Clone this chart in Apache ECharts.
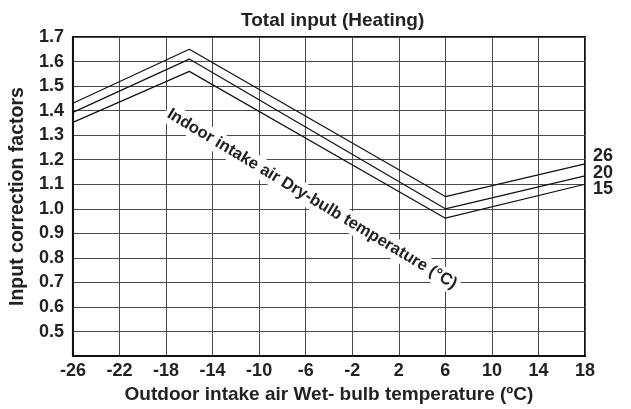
<!DOCTYPE html>
<html>
<head>
<meta charset="utf-8">
<script src="https://cdn.jsdelivr.net/npm/echarts@6/dist/echarts.min.js"></script>
<style>html,body{margin:0;padding:0;background:#fff}#c{width:631px;height:409px}</style>
</head>
<body>
<div id="c"></div>
<script>
// Outdoor wet-bulb temperature breakpoints (°C)
const xPoints = [-26, -16, 6, 18];
// Indoor dry-bulb temperature curves
const seriesNames = ['26', '20', '15'];
const curve26 = [1.43, 1.65, 1.05, 1.183];
const curve20 = [1.393, 1.61, 1.00, 1.134];
const curve15 = [1.352, 1.56, 0.962, 1.10];
const xTicks = [-26, 18, 4];      // min, max, interval
const yTicks = [0.4, 1.7, 0.1];   // min, max, interval

const FONT = "'Liberation Sans', Arial, sans-serif";
const curves = [curve26, curve20, curve15];
const labelOffsets = [[0, -8], [0, -3], [0, 5]];

const chart = echarts.init(document.getElementById('c'), null, {renderer: 'canvas'});
chart.setOption({
  animation: false,
  backgroundColor: '#fff',
  title: {
    text: 'Total input (Heating)',
    left: 236, top: 6,
    textStyle: {fontFamily: FONT, fontSize: 19, fontWeight: 'bold', color: '#222'}
  },
  grid: {
    left: 72, right: 46, top: 37, bottom: 50.5,
    show: true, borderColor: '#111', borderWidth: 2, backgroundColor: 'transparent'
  },
  xAxis: {
    type: 'value', min: xTicks[0], max: xTicks[1], interval: xTicks[2],
    name: 'Outdoor intake air Wet- bulb temperature (ºC)',
    nameLocation: 'middle', nameGap: 26,
    nameTextStyle: {fontFamily: FONT, fontSize: 19, fontWeight: 'bold', color: '#222'},
    axisLine: {onZero: false, lineStyle: {color: '#111', width: 2}},
    axisTick: {show: false},
    axisLabel: {margin: 6, fontFamily: FONT, fontSize: 18, fontWeight: 'bold', color: '#222'},
    splitLine: {show: true, lineStyle: {color: '#4a4a4a', width: 1}}
  },
  yAxis: {
    type: 'value', min: yTicks[0], max: yTicks[1], interval: yTicks[2],
    name: 'Input correction factors',
    nameLocation: 'middle', nameGap: 36,
    nameTextStyle: {fontFamily: FONT, fontSize: 19.5, fontWeight: 'bold', color: '#222'},
    axisLine: {show: true, onZero: false, lineStyle: {color: '#111', width: 2}},
    axisTick: {show: false},
    axisLabel: {
      margin: 9, fontFamily: FONT, fontSize: 18, fontWeight: 'bold', color: '#222',
      formatter: v => (Math.abs(v - yTicks[0]) < 1e-6 ? '' : v.toFixed(1))
    },
    splitLine: {show: true, lineStyle: {color: '#4a4a4a', width: 1}}
  },
  series: seriesNames.map((name, i) => ({
    name: name,
    type: 'line',
    showSymbol: false,
    symbol: 'none',
    z: 5,
    lineStyle: {color: '#111', width: 1.2},
    data: xPoints.map((x, j) => [x, curves[i][j]]),
    endLabel: {
      show: true, formatter: name, distance: 8, offset: labelOffsets[i],
      fontFamily: FONT, fontSize: 18, fontWeight: 'bold', color: '#222'
    }
  })),
  graphic: [{
    type: 'text',
    x: 312, y: 199,
    rotation: -31 * Math.PI / 180,
    z: 3,
    style: {
      text: 'Indoor intake air Dry-bulb temperature (°C)',
      fontFamily: FONT, fontSize: 16.5, fontWeight: 'bold',
      fill: '#222', align: 'center', verticalAlign: 'middle',
      backgroundColor: '#fff', padding: [2, 3]
    }
  }]
});
</script>
</body>
</html>
